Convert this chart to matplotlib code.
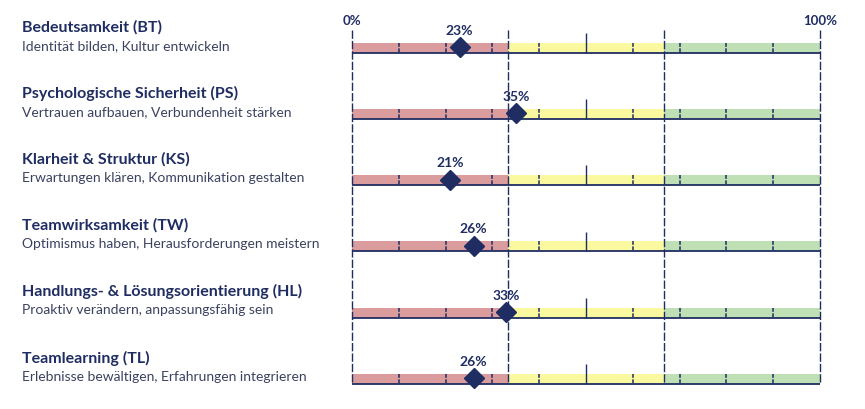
import matplotlib.pyplot as plt
import matplotlib.transforms as mtransforms
import numpy as np

plt.rcParams["font.family"] = ["Lato", "DejaVu Sans"]

# data
titles = [
    "Bedeutsamkeit (BT)",
    "Psychologische Sicherheit (PS)",
    "Klarheit & Struktur (KS)",
    "Teamwirksamkeit (TW)",
    "Handlungs- & Lösungsorientierung (HL)",
    "Teamlearning (TL)",
]
subtitles = [
    "Identität bilden, Kultur entwickeln",
    "Vertrauen aufbauen, Verbundenheit stärken",
    "Erwartungen klären, Kommunikation gestalten",
    "Optimismus haben, Herausforderungen meistern",
    "Proaktiv verändern, anpassungsfähig sein",
    "Erlebnisse bewältigen, Erfahrungen integrieren",
]
scores = [23, 35, 21, 26, 33, 26]
zone_edges = [0, 100 / 3, 200 / 3, 100]
zone_colors = ["#da9c9c", "#fbf9a0", "#bfdfb5"]
minor_ticks = [10, 20, 30, 40, 60, 70, 80, 90]

navy = "#1f2d62"
grey = "#3b4160"

fig = plt.figure(figsize=(8.65, 4.09), dpi=100)
ax = fig.add_axes([352 / 865, 0, 468 / 865, 1])
ax.set_xlim(0, 100)
ax.set_ylim(5.38, -0.80)
ax.axis("off")

rows = np.arange(len(scores))
bar_h = 0.151

for r in rows:
    # coloured zones
    for k in range(3):
        ax.barh(r - bar_h / 2, zone_edges[k + 1] - zone_edges[k], left=zone_edges[k],
                height=bar_h, color=zone_colors[k], zorder=1)
    # small ticks every 10 %
    ax.vlines(minor_ticks, r - bar_h, r, color=navy, lw=1.1, linestyles=(0, (2.5, 1)), zorder=2)
    ax.vlines(50, r - 0.3, r, color=navy, lw=1, zorder=2)
    # baseline
    ax.hlines(r, 0, 100, color=navy, lw=1.3, zorder=3, clip_on=False)

# zone separators
ax.vlines(zone_edges, -0.35, rows[-1], color=navy, lw=1, linestyles=(0, (6, 1.5)),
          zorder=2, clip_on=False)

# markers + labels
ax.plot(scores, rows - bar_h / 2 - 0.01, "D", color=navy, markersize=10.5, zorder=5, clip_on=False)
for s, r in zip(scores, rows):
    ax.annotate(f"{s}%", xy=(s, r - bar_h / 2), xytext=(0, 8), textcoords="offset points",
                ha="center", va="bottom", fontsize=10, fontweight="bold", color=navy, zorder=6)

# 0 / 100 labels
for x, lab in [(0, "0%"), (100, "100%")]:
    ax.text(x, -0.48, lab, ha="center", va="center", fontsize=9.5, fontweight="bold", color=navy)

# left hand texts
trans = mtransforms.blended_transform_factory(fig.transFigure, ax.transData)
for r, t, st in zip(rows, titles, subtitles):
    ax.text(22 / 865, r - 0.39, t, transform=trans, ha="left", va="center",
            fontsize=11.5, fontweight="bold", color=navy, clip_on=False)
    ax.text(22 / 865, r - 0.11, st, transform=trans, ha="left", va="center",
            fontsize=10, color=grey, clip_on=False)

fig.savefig("out.png", dpi=100)
